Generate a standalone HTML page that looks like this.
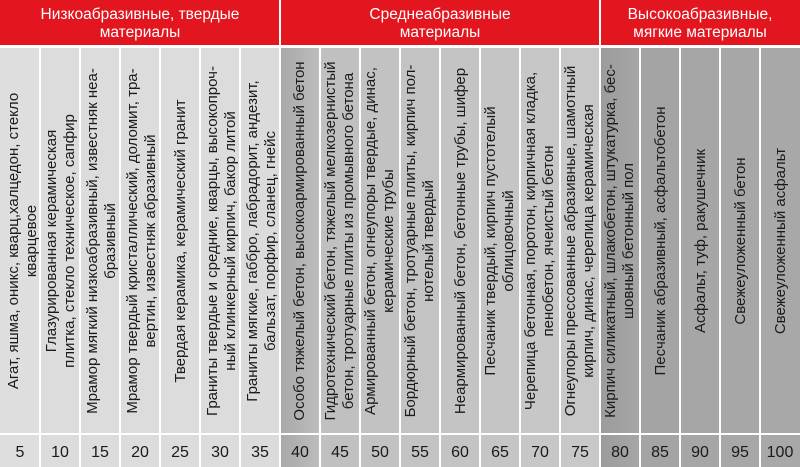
<!DOCTYPE html>
<html><head><meta charset="utf-8"><style>
html,body{margin:0;padding:0;background:#fff;}
svg{display:block;}
text{font-family:"Liberation Sans",Arial,sans-serif;}
</style></head><body>
<svg width="800" height="467" viewBox="0 0 800 467" xmlns="http://www.w3.org/2000/svg">
<rect x="0" y="0" width="800" height="467" fill="#fff"/>
<defs>
<linearGradient id="g8" x1="0" x2="1" y1="0" y2="0"><stop offset="0" stop-color="#a9a9a9"/><stop offset="1" stop-color="#bcbcbc"/></linearGradient>
<linearGradient id="g16" x1="0" x2="1" y1="0" y2="0"><stop offset="0" stop-color="#9c9c9c"/><stop offset="1" stop-color="#a6a6a6"/></linearGradient>
</defs>
<rect x="0" y="0" width="279" height="45" fill="#e3151f"/>
<rect x="281" y="0" width="318" height="45" fill="#e3151f"/>
<rect x="601" y="0" width="199" height="45" fill="#e3151f"/>
<g fill="#fff" font-size="15.5" text-anchor="middle">
<text x="140" y="19">Низкоабразивные, твердые</text>
<text x="140" y="37">материалы</text>
<text x="440" y="19">Среднеабразивные</text>
<text x="440" y="37">материалы</text>
<text x="700" y="19">Высокоабразивные,</text>
<text x="700" y="37">мягкие материалы</text>
</g>
<g>
<rect x="0" y="48" width="39" height="385" fill="#dedede"/>
<rect x="41" y="48" width="38" height="385" fill="#dcdcdc"/>
<rect x="81" y="48" width="38" height="385" fill="#dcdcdc"/>
<rect x="121" y="48" width="38" height="385" fill="#dcdcdc"/>
<rect x="161" y="48" width="38" height="385" fill="#dcdcdc"/>
<rect x="201" y="48" width="38" height="385" fill="#dcdcdc"/>
<rect x="241" y="48" width="38" height="385" fill="#dbdbdb"/>
<rect x="281" y="48" width="38" height="385" fill="url(#g8)"/>
<rect x="321" y="48" width="38" height="385" fill="#c0c0c0"/>
<rect x="361" y="48" width="38" height="385" fill="#c2c2c2"/>
<rect x="401" y="48" width="38" height="385" fill="#c3c3c3"/>
<rect x="441" y="48" width="38" height="385" fill="#c4c4c4"/>
<rect x="481" y="48" width="38" height="385" fill="#c5c5c5"/>
<rect x="521" y="48" width="38" height="385" fill="#c7c7c7"/>
<rect x="561" y="48" width="38" height="385" fill="#c8c8c8"/>
<rect x="601" y="48" width="38" height="385" fill="url(#g16)"/>
<rect x="641" y="48" width="38" height="385" fill="#a4a4a4"/>
<rect x="681" y="48" width="38" height="385" fill="#a6a6a6"/>
<rect x="721" y="48" width="38" height="385" fill="#a7a7a7"/>
<rect x="761" y="48" width="39" height="385" fill="#a8a8a8"/>
</g>
<g>
<rect x="0" y="435" width="39" height="32" fill="#dedede"/>
<rect x="41" y="435" width="38" height="32" fill="#dcdcdc"/>
<rect x="81" y="435" width="38" height="32" fill="#dcdcdc"/>
<rect x="121" y="435" width="38" height="32" fill="#dcdcdc"/>
<rect x="161" y="435" width="38" height="32" fill="#dcdcdc"/>
<rect x="201" y="435" width="38" height="32" fill="#dcdcdc"/>
<rect x="241" y="435" width="38" height="32" fill="#dbdbdb"/>
<rect x="281" y="435" width="38" height="32" fill="url(#g8)"/>
<rect x="321" y="435" width="38" height="32" fill="#c0c0c0"/>
<rect x="361" y="435" width="38" height="32" fill="#c2c2c2"/>
<rect x="401" y="435" width="38" height="32" fill="#c3c3c3"/>
<rect x="441" y="435" width="38" height="32" fill="#c4c4c4"/>
<rect x="481" y="435" width="38" height="32" fill="#c5c5c5"/>
<rect x="521" y="435" width="38" height="32" fill="#c7c7c7"/>
<rect x="561" y="435" width="38" height="32" fill="#c8c8c8"/>
<rect x="601" y="435" width="38" height="32" fill="url(#g16)"/>
<rect x="641" y="435" width="38" height="32" fill="#a4a4a4"/>
<rect x="681" y="435" width="38" height="32" fill="#a6a6a6"/>
<rect x="721" y="435" width="38" height="32" fill="#a7a7a7"/>
<rect x="761" y="435" width="39" height="32" fill="#a8a8a8"/>
</g>
<g fill="#1a1a1a" font-size="16" text-anchor="middle">
<text x="20" y="457">5</text><text x="60" y="457">10</text><text x="100" y="457">15</text><text x="140" y="457">20</text><text x="180" y="457">25</text>
<text x="220" y="457">30</text><text x="260" y="457">35</text><text x="300" y="457">40</text><text x="340" y="457">45</text><text x="380" y="457">50</text>
<text x="420" y="457">55</text><text x="460" y="457">60</text><text x="500" y="457">65</text><text x="540" y="457">70</text><text x="580" y="457">75</text>
<text x="620" y="457">80</text><text x="660" y="457">85</text><text x="700" y="457">90</text><text x="740" y="457">95</text><text x="780" y="457">100</text>
</g>
<g fill="#1a1a1a" font-size="15" text-anchor="middle">
<text transform="translate(18,241) rotate(-90)">Агат, яшма, оникс, кварц,халцедон, стекло</text>
<text transform="translate(36,241) rotate(-90)">кварцевое</text>
<text transform="translate(56,241) rotate(-90)">Глазурированная керамическая</text>
<text transform="translate(74,241) rotate(-90)">плитка, стекло техническое, сапфир</text>
<text transform="translate(97,241) rotate(-90)">Мрамор мягкий низкоабразивный, известняк неа-</text>
<text transform="translate(115,241) rotate(-90)">бразивный</text>
<text transform="translate(137,241) rotate(-90)">Мрамор твердый кристаллический, доломит, тра-</text>
<text transform="translate(155,241) rotate(-90)">вертин, известняк абразивный</text>
<text transform="translate(185,241) rotate(-90)">Твердая керамика, керамический гранит</text>
<text transform="translate(217,241) rotate(-90)">Граниты твердые и средние, кварцы, высокопроч-</text>
<text transform="translate(235,241) rotate(-90)">ный клинкерный кирпич, бакор литой</text>
<text transform="translate(257,241) rotate(-90)">Граниты мягкие, габбро, лабрадорит, андезит,</text>
<text transform="translate(275,241) rotate(-90)">бальзат, порфир, сланец, гнейс</text>
<text transform="translate(304,241) rotate(-90)">Особо тяжелый бетон, высокоармированный бетон</text>
<text transform="translate(335,241) rotate(-90)">Гидротехнический бетон, тяжелый мелкозернистый</text>
<text transform="translate(353,241) rotate(-90)">бетон, тротуарные плиты из промывного бетона</text>
<text transform="translate(375,241) rotate(-90)">Армированный бетон, огнеупоры твердые, динас,</text>
<text transform="translate(393,241) rotate(-90)">керамические трубы</text>
<text transform="translate(415,241) rotate(-90)">Бордюрный бетон, тротуарные плиты, кирпич пол-</text>
<text transform="translate(433,241) rotate(-90)">нотелый твердый</text>
<text transform="translate(465,241) rotate(-90)">Неармированный бетон, бетонные трубы, шифер</text>
<text transform="translate(495,241) rotate(-90)">Песчаник твердый, кирпич пустотелый</text>
<text transform="translate(513,241) rotate(-90)">облицовочный</text>
<text transform="translate(535,241) rotate(-90)">Черепица бетонная, поротон, кирпичная кладка,</text>
<text transform="translate(553,241) rotate(-90)">пенобетон, ячеистый бетон</text>
<text transform="translate(575,241) rotate(-90)">Огнеупоры прессованные абразивные, шамотный</text>
<text transform="translate(593,241) rotate(-90)">кирпич, динас, черепица керамическая</text>
<text transform="translate(615,241) rotate(-90)">Кирпич силикатный, шлакобетон, штукатурка, бес-</text>
<text transform="translate(633,241) rotate(-90)">шовный бетонный пол</text>
<text transform="translate(665,241) rotate(-90)">Песчаник абразивный, асфальтобетон</text>
<text transform="translate(705,241) rotate(-90)">Асфальт, туф, ракушечник</text>
<text transform="translate(745,241) rotate(-90)">Свежеуложенный бетон</text>
<text transform="translate(785,241) rotate(-90)">Свежеуложенный асфальт</text>
</g>
</svg>
</body></html>
